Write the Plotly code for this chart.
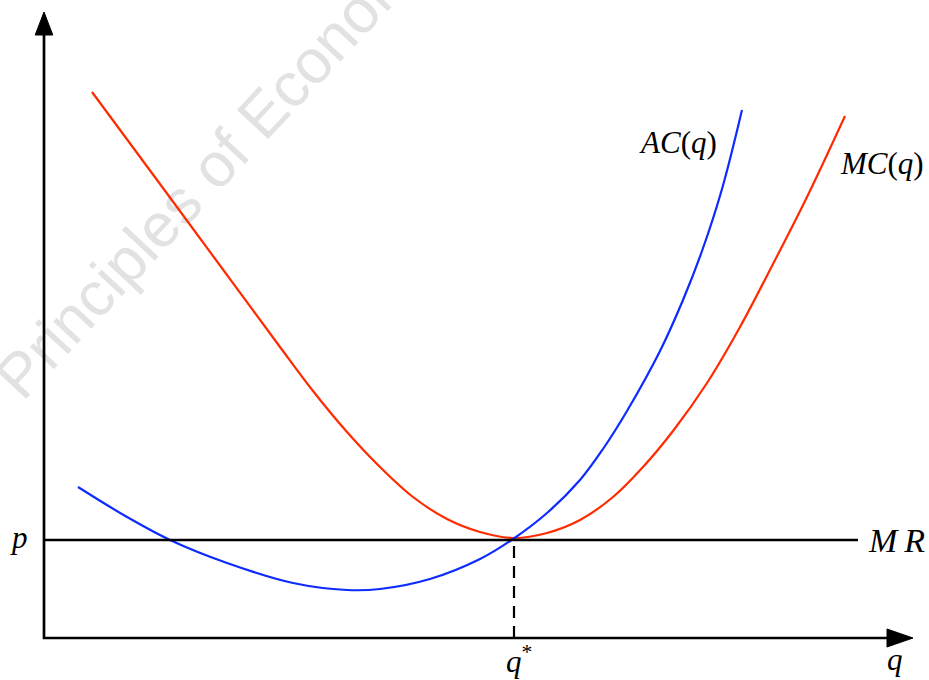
import plotly.graph_objects as go

# Marginal cost curve (q, cost)
mc_q = [0.48, 1.16, 1.83, 2.36, 2.69, 3.03, 3.36, 3.69, 4.03, 4.36, 4.69,
        5.03, 5.36, 5.69, 5.99, 6.29, 6.63, 6.96, 7.29, 7.63, 8.01]
mc_c = [5.46, 4.54, 3.63, 2.91, 2.47, 2.06, 1.71, 1.41, 1.19, 1.06, 1.00,
        1.05, 1.18, 1.41, 1.71, 2.07, 2.55, 3.11, 3.74, 4.41, 5.22]

# Average cost curve (q, cost)
ac_q = [0.34, 0.83, 1.26, 1.83, 2.49, 3.03, 3.36, 3.86, 4.36, 4.69,
        5.03, 5.36, 5.59, 5.83, 6.16, 6.39, 6.58, 6.78, 6.98]
ac_c = [1.51, 1.21, 0.98, 0.75, 0.55, 0.48, 0.49, 0.59, 0.79, 0.99,
        1.25, 1.58, 1.89, 2.27, 2.87, 3.38, 3.87, 4.49, 5.28]

# Market price / marginal revenue and the optimal quantity
price = 0.98
q_star = 4.70
mr_end = 8.14

# Axis extents
x_axis_end = 8.43
x_arrow_tip = 8.69
y_axis_end = 6.03
y_arrow_tip = 6.26

RED = "#ff2b00"
BLUE = "#0d2bff"
LABEL_FONT = dict(family="Liberation Serif", size=31, color="black")

fig = go.Figure()

# Cost curves
fig.add_trace(go.Scatter(x=mc_q, y=mc_c, mode="lines",
                         line=dict(color=RED, width=2.2, shape="spline", smoothing=1.0)))
fig.add_trace(go.Scatter(x=ac_q, y=ac_c, mode="lines",
                         line=dict(color=BLUE, width=2.2, shape="spline", smoothing=1.0)))

# MR = p horizontal line
fig.add_trace(go.Scatter(x=[0, mr_end], y=[price, price], mode="lines",
                         line=dict(color="black", width=2.5)))

# Dashed drop line at q*
fig.add_trace(go.Scatter(x=[q_star, q_star], y=[0, price], mode="lines",
                         line=dict(color="black", width=2.2, dash="12px,8px")))

# Axes
fig.add_trace(go.Scatter(x=[0, 0, x_axis_end], y=[y_axis_end, 0, 0], mode="lines",
                         line=dict(color="black", width=2.7)))
# Arrowheads
fig.add_trace(go.Scatter(x=[-0.088, 0.088, 0, -0.088],
                         y=[y_axis_end, y_axis_end, y_arrow_tip, y_axis_end],
                         mode="lines", fill="toself", fillcolor="black",
                         line=dict(color="black", width=1)))
fig.add_trace(go.Scatter(x=[x_axis_end, x_axis_end, x_arrow_tip, x_axis_end],
                         y=[-0.09, 0.09, 0, -0.09],
                         mode="lines", fill="toself", fillcolor="black",
                         line=dict(color="black", width=1)))

# Watermark behind everything
fig.add_shape(type="line", x0=1.15, y0=4.22, x1=2.51, y1=5.68,
              line=dict(width=0, color="rgba(0,0,0,0)"), layer="below",
              label=dict(text="Principles of Economics", textangle=-47,
                         textposition="middle", yanchor="middle", xanchor="center",
                         font=dict(family="Liberation Sans", size=62,
                                   color="rgb(226,226,226)")))

# Labels
fig.add_annotation(x=6.75, y=4.96, text="<i>AC</i>(<i>q</i>)", showarrow=False,
                   xanchor="right", yanchor="middle", font=LABEL_FONT)
fig.add_annotation(x=7.94, y=4.75, text="<i>MC</i>(<i>q</i>)", showarrow=False,
                   xanchor="left", yanchor="middle", font=LABEL_FONT)
fig.add_annotation(x=8.22, y=price, text="<i>M</i>&#8201;<i>R</i>", showarrow=False,
                   xanchor="left", yanchor="middle",
                   font=dict(family="Liberation Serif", size=34, color="black"))
fig.add_annotation(x=-0.25, y=price + 0.03, text="<i>p</i>", showarrow=False,
                   xanchor="center", yanchor="middle", font=LABEL_FONT)
fig.add_annotation(x=q_star + 0.05, y=-0.21, text="<i>q</i><sup>*</sup>", showarrow=False,
                   xanchor="center", yanchor="middle", font=LABEL_FONT)
fig.add_annotation(x=8.51, y=-0.21, text="<i>q</i>", showarrow=False,
                   xanchor="center", yanchor="middle", font=LABEL_FONT)

fig.update_layout(
    width=929, height=680,
    margin=dict(l=0, r=0, t=0, b=0),
    paper_bgcolor="white", plot_bgcolor="white",
    showlegend=False,
    xaxis=dict(range=[-0.44, 8.85], visible=False, fixedrange=True),
    yaxis=dict(range=[-0.42, 6.38], visible=False, fixedrange=True),
)

fig.write_html("out.html")
